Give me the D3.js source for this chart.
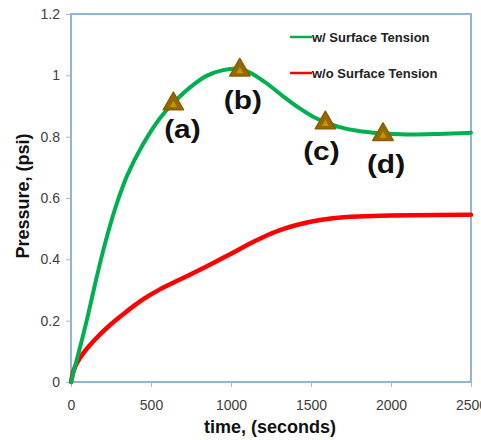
<!DOCTYPE html>
<html>
<head>
<meta charset="utf-8">
<script src="https://cdn.jsdelivr.net/npm/d3@7"></script>
<style>
  html, body { margin: 0; padding: 0; background: #fff; }
  svg { display: block; font-family: Arial, "Liberation Sans", sans-serif; }
</style>
</head>
<body>
<svg id="chart" width="481" height="440"></svg>
<script>
// Pressure history, time in seconds
const withTension = [
  [0, 0], [50, 0.1], [98, 0.2], [142, 0.3], [185, 0.395], [233, 0.49], [285, 0.58],
  [350, 0.672], [450, 0.775], [556, 0.86], [640, 0.91], [750, 0.963], [850, 0.999],
  [950, 1.017], [1050, 1.022], [1140, 1.003], [1220, 0.975], [1330, 0.93],
  [1430, 0.892], [1510, 0.866], [1590, 0.848], [1680, 0.831], [1790, 0.819],
  [1930, 0.811], [2100, 0.807], [2300, 0.809], [2500, 0.813]
];
const withoutTension = [
  [0, 0], [15, 0.035], [35, 0.06], [77, 0.094], [140, 0.133], [244, 0.186],
  [348, 0.23], [452, 0.27], [556, 0.302], [681, 0.334], [806, 0.366], [889, 0.388],
  [1000, 0.418], [1098, 0.446], [1200, 0.472], [1306, 0.495], [1410, 0.512],
  [1556, 0.528], [1723, 0.538], [1931, 0.542], [2139, 0.544], [2500, 0.545]
];
const seriesNames = ["w/ Surface Tension", "w/o Surface Tension"];
const stageLabels = ["(a)", "(b)", "(c)", "(d)"];
const stageTimes = [640, 1055, 1590, 1950];
const stagePressures = [0.91, 1.02, 0.848, 0.81];
const xTicks = [0, 500, 1000, 1500, 2000, 2500];
const yTicks = [0, 0.2, 0.4, 0.6, 0.8, 1, 1.2];

const svg = d3.select("#chart");
const margin = { left: 71, top: 14, right: 10, bottom: 58 };
const W = 481, H = 440;
const x = d3.scaleLinear().domain([0, 2500]).range([margin.left, W - margin.right]);
const y = d3.scaleLinear().domain([0, 1.2]).range([H - margin.bottom, margin.top]);

const frameColor = "#95b3d7";
const tickColor = "#404040";

// Axes
const xAxis = svg.append("g")
  .attr("transform", `translate(0,${y(0)})`)
  .call(d3.axisBottom(x).tickValues(xTicks).tickFormat(d3.format("d")).tickSize(5).tickPadding(13));
const yAxis = svg.append("g")
  .attr("transform", `translate(${x(0)},0)`)
  .call(d3.axisLeft(y).tickValues(yTicks).tickFormat(d => String(d)).tickSize(5).tickPadding(6));
[xAxis, yAxis].forEach(g => {
  g.select(".domain").remove();
  g.selectAll(".tick line").attr("stroke", "#a6b8cc");
  g.selectAll(".tick text").attr("fill", tickColor).style("font-size", "14px")
    .style("font-family", "Arial, 'Liberation Sans', sans-serif");
});

// Plot frame
svg.append("rect")
  .attr("x", x(0)).attr("y", y(1.2))
  .attr("width", x(2500) - x(0)).attr("height", y(0) - y(1.2))
  .attr("fill", "none").attr("stroke", frameColor).attr("stroke-width", 2);

// Curves
const line = d3.line().x(d => x(d[0])).y(d => y(d[1])).curve(d3.curveCatmullRom.alpha(0.5));
svg.append("path").datum(withoutTension).attr("d", line)
  .attr("fill", "none").attr("stroke", "#ff0000").attr("stroke-width", 4.5)
  .attr("stroke-linejoin", "round").attr("stroke-linecap", "round");
svg.append("path").datum(withTension).attr("d", line)
  .attr("fill", "none").attr("stroke", "#00b050").attr("stroke-width", 4)
  .attr("stroke-linejoin", "round").attr("stroke-linecap", "round");

// Stage markers on the surface-tension curve
const stages = stageLabels.map((l, i) => ({ label: l, t: stageTimes[i], p: stagePressures[i] }));
const labelOffsets = [[9, 35], [3, 40], [-4, 38], [3, 39]];
const outer = d3.symbol().type(d3.symbolTriangle).size(180)();
const inner = d3.symbol().type(d3.symbolTriangle).size(22)();
const mk = svg.append("g").selectAll("g").data(stages).join("g")
  .attr("transform", d => `translate(${x(d.t)},${y(d.p) + 1})`);
mk.append("path").attr("d", outer).attr("fill", "#946800")
  .attr("stroke", "#8a5e00").attr("stroke-width", 1.5).attr("stroke-linejoin", "round");
mk.append("path").attr("d", inner).attr("fill", "#c99200").attr("transform", "translate(0,1)");

svg.append("g").selectAll("text").data(stages).join("text")
  .attr("transform", (d, i) => `translate(${x(d.t) + labelOffsets[i][0]},${y(d.p) + labelOffsets[i][1]}) scale(1.15,1)`)
  .attr("text-anchor", "middle")
  .style("font-size", "26px").style("font-weight", "bold").attr("fill", "#111")
  .text(d => d.label);

// Legend
const legendColors = ["#00b050", "#ff0000"];
const lg = svg.append("g").selectAll("g").data(seriesNames).join("g")
  .attr("transform", (d, i) => `translate(290,${37 + i * 36})`);
lg.append("line").attr("x1", 0).attr("x2", 22).attr("y1", 0).attr("y2", 0)
  .attr("stroke", (d, i) => legendColors[i]).attr("stroke-width", 2.5);
lg.append("text").attr("x", 22).attr("y", 4.5)
  .style("font-size", "13px").style("font-weight", "bold").attr("fill", "#222")
  .text(d => d);

// Axis titles
svg.append("text")
  .attr("x", (x(0) + x(2500)) / 2 - 1).attr("y", 433)
  .attr("text-anchor", "middle")
  .style("font-size", "18px").style("font-weight", "bold").attr("fill", "#111")
  .text("time, (seconds)");
svg.append("text")
  .attr("transform", `translate(29,${(y(0) + y(1.2)) / 2 - 2}) rotate(-90)`)
  .attr("text-anchor", "middle")
  .style("font-size", "18px").style("font-weight", "bold").attr("fill", "#111")
  .text("Pressure, (psi)");
</script>
</body>
</html>
